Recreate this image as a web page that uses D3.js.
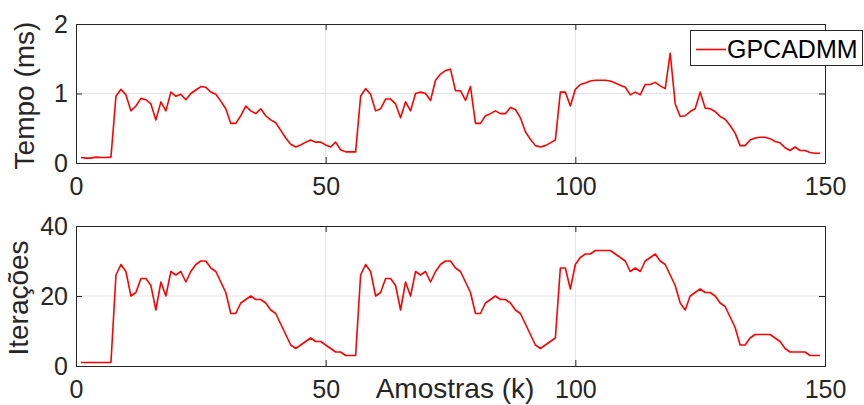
<!DOCTYPE html>
<html>
<head>
<meta charset="utf-8">
<script src="https://cdn.jsdelivr.net/npm/d3@7"></script>
<style>
  body { margin: 0; background: #fff; }
  svg { display: block; font-family: "Liberation Sans", Arial, sans-serif; }
  .tick text { fill: #262626; }
</style>
</head>
<body>
<svg width="864" height="405"></svg>
<script>
// amostras k = 1..149
var amostras = d3.range(1, 150);

// tempo por amostra (ms)
var tempo = [
  0.08, 0.07, 0.07, 0.085, 0.08, 0.08, 0.085, 0.96, 1.06, 0.98,
  0.75, 0.82, 0.93, 0.91, 0.85, 0.62, 0.88, 0.75, 1.02, 0.96,
  0.99, 0.91, 1.00, 1.05, 1.10, 1.09, 1.02, 0.99, 0.89, 0.78,
  0.57, 0.57, 0.68, 0.82, 0.75, 0.71, 0.78, 0.68, 0.62, 0.58,
  0.47, 0.36, 0.27, 0.23, 0.26, 0.30, 0.33, 0.30, 0.30, 0.26,
  0.23, 0.30, 0.19, 0.16, 0.16, 0.16, 0.96, 1.07, 0.99, 0.75,
  0.78, 0.92, 0.92, 0.85, 0.65, 0.88, 0.75, 1.00, 1.02, 1.00,
  0.90, 1.19, 1.28, 1.33, 1.35, 1.04, 1.04, 0.90, 1.10, 0.57,
  0.57, 0.68, 0.71, 0.75, 0.71, 0.71, 0.80, 0.77, 0.65, 0.45,
  0.34, 0.25, 0.23, 0.25, 0.29, 0.33, 1.02, 1.02, 0.82, 1.06,
  1.13, 1.15, 1.18, 1.19, 1.19, 1.19, 1.18, 1.15, 1.12, 1.09,
  0.98, 1.02, 0.98, 1.13, 1.13, 1.16, 1.11, 1.07, 1.58, 0.85,
  0.67, 0.68, 0.74, 0.78, 1.02, 0.79, 0.78, 0.74, 0.67, 0.63,
  0.54, 0.43, 0.25, 0.25, 0.33, 0.36, 0.37, 0.37, 0.35, 0.31,
  0.29, 0.22, 0.18, 0.23, 0.18, 0.18, 0.15, 0.14, 0.14
];

// iteracoes por amostra
var iteracoes = [
  1, 1, 1, 1, 1, 1, 1, 26, 29, 27,
  20, 21, 25, 25, 23, 16, 24, 20, 27, 26,
  27, 24, 27, 29, 30, 30, 28, 27, 24, 21,
  15, 15, 18, 19, 20, 19, 19, 18, 16, 15,
  12, 9, 6, 5, 6, 7, 8, 7, 7, 6,
  5, 4, 4, 3, 3, 3, 26, 29, 27, 20,
  21, 25, 25, 23, 16, 24, 20, 27, 26, 27,
  24, 27, 29, 30, 30, 28, 27, 24, 21, 15,
  15, 18, 19, 20, 19, 19, 18, 16, 15, 12,
  9, 6, 5, 6, 7, 8, 28, 28, 22, 29,
  31, 32, 32, 33, 33, 33, 33, 32, 31, 30,
  27, 28, 27, 30, 31, 32, 30, 29, 26, 23,
  18, 16, 20, 21, 22, 21, 21, 20, 18, 17,
  14, 11, 6, 6, 8, 9, 9, 9, 9, 8,
  7, 5, 4, 4, 4, 4, 3, 3, 3
];

var xTicks = [0, 50, 100, 150];
var tempoTicks = [0, 1, 2];
var iterTicks = [0, 20, 40];

var svg = d3.select("svg");
var left = 76, right = 825, fs = 25, fsLabel = 28;
var fmt = d3.format("d");

var x = d3.scaleLinear().domain([0, 150]).range([left, right]);

function painel(top, bottom, yDomain, yTicks, values, label, labelX) {
  var y = d3.scaleLinear().domain(yDomain).range([bottom, top]);
  var g = svg.append("g");

  // grade
  g.selectAll(".gx").data(xTicks.slice(1, -1)).enter().append("line")
      .attr("x1", function(d) { return x(d); }).attr("x2", function(d) { return x(d); })
      .attr("y1", top).attr("y2", bottom)
      .attr("stroke", "#e3e3e3");
  g.selectAll(".gy").data(yTicks.slice(1, -1)).enter().append("line")
      .attr("x1", left).attr("x2", right)
      .attr("y1", function(d) { return y(d); }).attr("y2", function(d) { return y(d); })
      .attr("stroke", "#e3e3e3");

  // linha
  var line = d3.line()
      .x(function(d, i) { return x(amostras[i]); })
      .y(function(d) { return y(d); });
  g.append("path")
      .datum(values)
      .attr("fill", "none")
      .attr("stroke", "#ff0000")
      .attr("stroke-width", 1.6)
      .attr("stroke-linejoin", "round")
      .attr("d", line);

  // eixos com ticks para dentro
  g.append("g")
      .attr("transform", "translate(0," + bottom + ")")
      .call(d3.axisBottom(x).tickValues(xTicks).tickFormat(fmt).tickSizeInner(-6).tickSizeOuter(0).tickPadding(14))
      .call(function(a) { a.selectAll("text").attr("font-size", fs); });
  g.append("g")
      .attr("transform", "translate(0," + top + ")")
      .call(d3.axisTop(x).tickValues(xTicks).tickSizeInner(-6).tickSizeOuter(0).tickFormat(""));
  g.append("g")
      .attr("transform", "translate(" + left + ",0)")
      .call(d3.axisLeft(y).tickValues(yTicks).tickFormat(fmt).tickSizeInner(-6).tickSizeOuter(0).tickPadding(8))
      .call(function(a) { a.selectAll("text").attr("font-size", fs); });
  g.append("g")
      .attr("transform", "translate(" + right + ",0)")
      .call(d3.axisRight(y).tickValues(yTicks).tickSizeInner(-6).tickSizeOuter(0).tickFormat(""));
  g.selectAll(".domain, .tick line").attr("stroke", "#262626");
  g.selectAll(".tick text").attr("font-family", "Liberation Sans, Arial, sans-serif");

  g.append("text")
      .attr("transform", "translate(" + labelX + "," + ((top + bottom) / 2 + 2) + ") rotate(-90)")
      .attr("text-anchor", "middle")
      .attr("font-size", fsLabel)
      .attr("fill", "#262626")
      .text(label);
}

painel(24, 163, [0, 2], tempoTicks, tempo, "Tempo (ms)", 34);
painel(226, 366, [0, 40], iterTicks, iteracoes, "Iterações", 28);

svg.append("text")
    .attr("x", 455)
    .attr("y", 398)
    .attr("text-anchor", "middle")
    .attr("font-size", fsLabel)
    .attr("fill", "#262626")
    .text("Amostras (k)");

// legenda
var leg = svg.append("g");
leg.append("rect")
    .attr("x", 690.5).attr("y", 30.5)
    .attr("width", 172).attr("height", 35)
    .attr("fill", "#fff")
    .attr("stroke", "#262626");
leg.append("line")
    .attr("x1", 696).attr("x2", 726)
    .attr("y1", 49.5).attr("y2", 49.5)
    .attr("stroke", "#ff0000")
    .attr("stroke-width", 1.6);
leg.append("text")
    .attr("x", 727).attr("y", 57.5)
    .attr("font-size", fs)
    .attr("fill", "#000")
    .text("GPCADMM");
</script>
</body>
</html>
